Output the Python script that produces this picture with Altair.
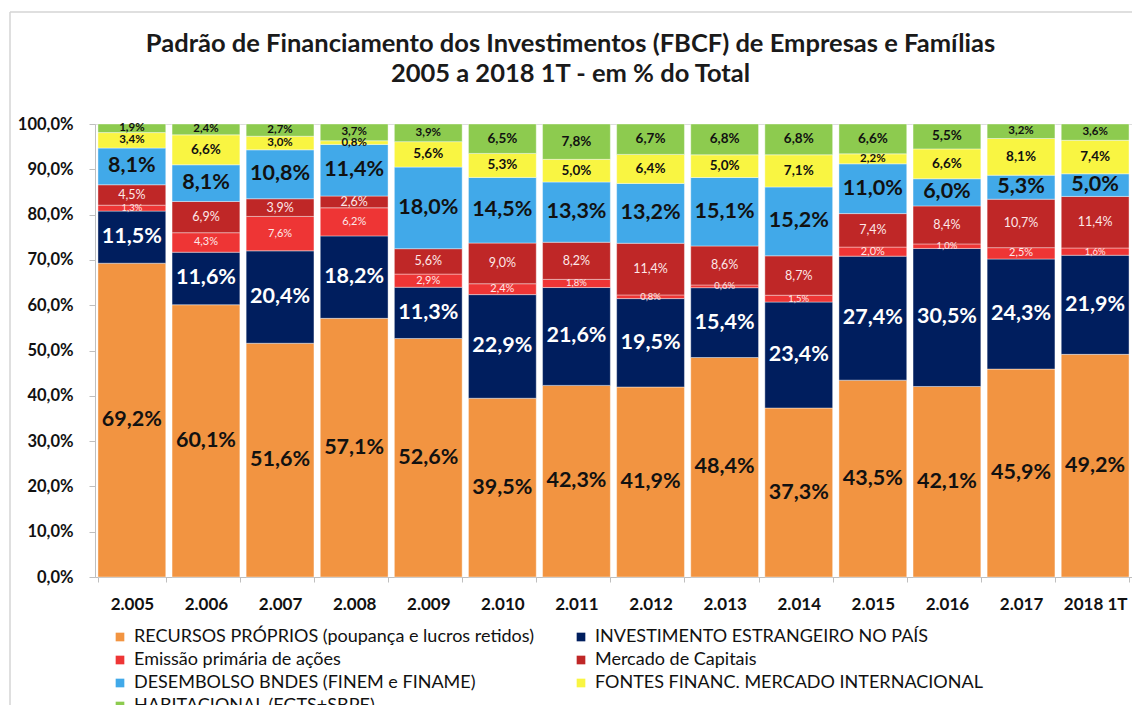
import altair as alt
import pandas as pd

years = ["2.005", "2.006", "2.007", "2.008", "2.009", "2.010", "2.011",
         "2.012", "2.013", "2.014", "2.015", "2.016", "2.017", "2018 1T"]

recursos_proprios = [69.2, 60.1, 51.6, 57.1, 52.6, 39.5, 42.3, 41.9, 48.4, 37.3, 43.5, 42.1, 45.9, 49.2]
invest_estrangeiro = [11.5, 11.6, 20.4, 18.2, 11.3, 22.9, 21.6, 19.5, 15.4, 23.4, 27.4, 30.5, 24.3, 21.9]
emissao_acoes = [1.3, 4.3, 7.6, 6.2, 2.9, 2.4, 1.8, 0.8, 0.6, 1.5, 2.0, 1.0, 2.5, 1.6]
mercado_capitais = [4.5, 6.9, 3.9, 2.6, 5.6, 9.0, 8.2, 11.4, 8.6, 8.7, 7.4, 8.4, 10.7, 11.4]
bndes = [8.1, 8.1, 10.8, 11.4, 18.0, 14.5, 13.3, 13.2, 15.1, 15.2, 11.0, 6.0, 5.3, 5.0]
fontes_internac = [3.4, 6.6, 3.0, 0.8, 5.6, 5.3, 5.0, 6.4, 5.0, 7.1, 2.2, 6.6, 8.1, 7.4]
habitacional = [1.9, 2.4, 2.7, 3.7, 3.9, 6.5, 7.8, 6.7, 6.8, 6.8, 6.6, 5.5, 3.2, 3.6]

series_names = [
    "RECURSOS PRÓPRIOS (poupança e lucros retidos)",
    "INVESTIMENTO ESTRANGEIRO NO PAÍS",
    "Emissão primária de ações",
    "Mercado de Capitais",
    "DESEMBOLSO BNDES (FINEM e FINAME)",
    "FONTES FINANC. MERCADO INTERNACIONAL",
    "HABITACIONAL (FGTS+SBPE)",
]
series_values = [recursos_proprios, invest_estrangeiro, emissao_acoes, mercado_capitais,
                 bndes, fontes_internac, habitacional]
colors = ["#F29441", "#001E5E", "#EE3535", "#BF2727", "#41A9E9", "#F9F542", "#8DCB4F"]
text_colors = ["#111111", "#FFFFFF", "#FDE8E8", "#FDE8E8", "#111111", "#111111", "#111111"]

rows = []
for si, (name, vals) in enumerate(zip(series_names, series_values)):
    for yi, (yr, v) in enumerate(zip(years, vals)):
        rows.append({"year": yr, "series": name, "ord": si, "value": v})
df = pd.DataFrame(rows)

# label font size: large for the three main series, smaller for thin segments
size_expr = (
    "datum.ord == 0 || datum.ord == 1 || datum.ord == 4 ? 21.5 : "
    "(datum.ord == 2 ? (datum.value < 2 ? 9.5 : 11) : "
    "(datum.ord == 3 ? 12.5 : (datum.value < 4 ? 11.5 : 13.5)))"
)

base = alt.Chart(df).transform_window(
    cum="sum(value)", groupby=["year"], sort=[alt.SortField("ord")]
).transform_joinaggregate(
    total="sum(value)", groupby=["year"]
).transform_calculate(
    y0="(datum.cum - datum.value) / datum.total * 100",
    y1="datum.cum / datum.total * 100",
    mid="(datum.cum - datum.value / 2) / datum.total * 100",
    label="replace(format(datum.value, '.1f'), '.', ',') + '%'",
    fs=size_expr,
)

x_enc = alt.X(
    "year:N", sort=years,
    scale=alt.Scale(paddingInner=0.085, paddingOuter=0.04),
    axis=alt.Axis(title=None, labelAngle=0, labelFontWeight="bold", labelFontSize=17,
                  labelFont="Lato", labelColor="#111111", tickBand="extent",
                  domainColor="#BFBFBF", tickColor="#BFBFBF", tickSize=5, labelPadding=14),
)

bars = base.mark_bar(stroke="white", strokeWidth=0.4).encode(
    x=x_enc,
    y=alt.Y("y0:Q", scale=alt.Scale(domain=[0, 100], nice=False),
            axis=alt.Axis(title=None, values=list(range(0, 101, 10)),
                          labelExpr="replace(format(datum.value, '.1f'), '.', ',') + '%'",
                          labelFontWeight="bold", labelFontSize=16.5, labelFont="Lato",
                          labelColor="#111111", domainColor="#BFBFBF", tickColor="#BFBFBF",
                          tickSize=6, labelPadding=16, grid=False)),
    y2="y1:Q",
    color=alt.Color("series:N", sort=series_names,
                    scale=alt.Scale(domain=series_names, range=colors),
                    legend=alt.Legend(title=None, orient="none", legendX=16, legendY=504,
                                      direction="horizontal", columns=2, columnPadding=38,
                                      rowPadding=5, symbolType="square", symbolSize=75,
                                      symbolStrokeWidth=0, labelFontSize=18, labelFont="Lato",
                                      labelColor="#111111", labelLimit=500, labelOffset=5)),
    order=alt.Order("ord:Q"),
)

bold_series = [series_names[i] for i in (0, 1, 4, 5, 6)]
thin_series = [series_names[i] for i in (2, 3)]

text_common = dict(
    x=alt.X("year:N", sort=years),
    y=alt.Y("mid:Q"),
    text="label:N",
    color=alt.Color("series:N", scale=alt.Scale(domain=series_names, range=text_colors), legend=None),
    size=alt.Size("fs:Q", scale=None, legend=None),
)

labels_bold = base.transform_filter(
    alt.FieldOneOfPredicate(field="series", oneOf=bold_series)
).mark_text(fontWeight="bold", font="Lato", baseline="middle").encode(**text_common)

labels_thin = base.transform_filter(
    alt.FieldOneOfPredicate(field="series", oneOf=thin_series)
).mark_text(fontWeight="normal", font="Lato", baseline="middle").encode(**text_common)

# chart border (decorative frame, as in the original spreadsheet chart)
frame_df = pd.DataFrame({"k": [0]})
frame_left = alt.Chart(frame_df).mark_rule(color="#D4D4D4", strokeWidth=1.5).encode(
    x=alt.value(-85), y=alt.value(-112), y2=alt.value(600))
frame_top = alt.Chart(frame_df).mark_rule(color="#D4D4D4", strokeWidth=1.5).encode(
    x=alt.value(-85), x2=alt.value(1045), y=alt.value(-112))

chart = alt.layer(frame_left, frame_top, bars, labels_bold, labels_thin).resolve_scale(
    color="independent", size="independent"
).properties(
    width=1037, height=453,
    title=alt.TitleParams(
        text=["Padrão de Financiamento dos Investimentos (FBCF) de Empresas e Famílias",
              "2005 a 2018 1T  - em % do Total"],
        fontSize=25.5, font="Lato", fontWeight="bold", color="#1A1A1A",
        anchor="middle", dx=-43, dy=107, offset=31, lineHeight=30,
    ),
    autosize=alt.AutoSizeParams(type="none"),
    padding={"left": 87, "top": 116, "right": 0, "bottom": 128},
).configure_view(stroke=None).configure(background="white")

chart.save("out.html", embed_options={"renderer": "svg", "actions": False})
